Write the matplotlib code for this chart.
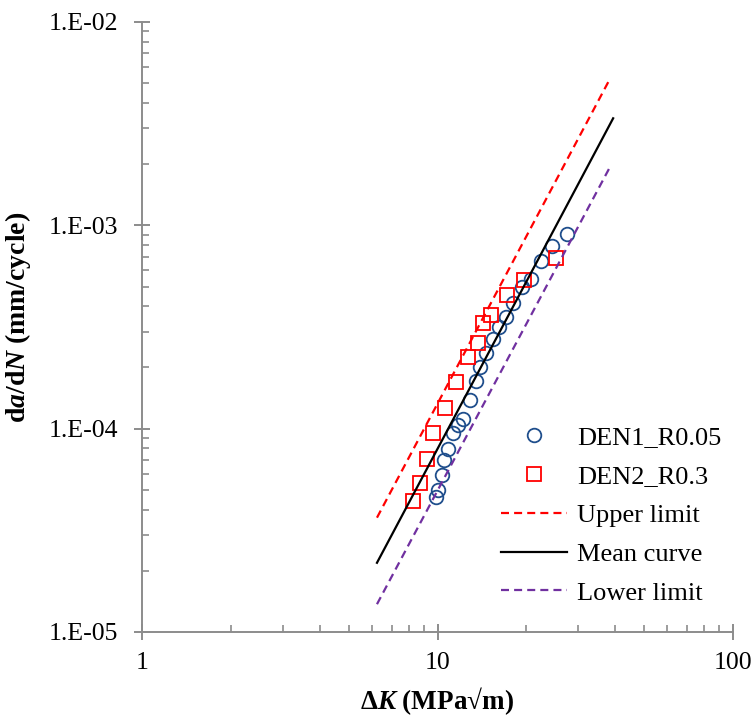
import math
import matplotlib
matplotlib.use("Agg")
import matplotlib.pyplot as plt
from matplotlib.ticker import FixedLocator, FuncFormatter, LogLocator, NullFormatter

plt.rcParams['font.family'] = ['Liberation Serif', 'DejaVu Serif']
plt.rcParams['mathtext.fontset'] = 'custom'
plt.rcParams['mathtext.rm'] = 'Liberation Serif:bold'
plt.rcParams['mathtext.it'] = 'Liberation Serif:italic:bold'
plt.rcParams['mathtext.bf'] = 'Liberation Serif:bold'

# DEN1_R0.05 (circles)
den1_dk = [27.5, 24.5, 22.4, 20.7, 19.3, 17.97, 17.05, 16.15, 15.38, 14.59, 13.92,
           13.5, 12.88, 12.23, 11.76, 11.31, 10.88, 10.52, 10.38, 10.06, 9.88]
den1_rate = [9.07e-4, 7.87e-4, 6.68e-4, 5.43e-4, 4.99e-4, 4.14e-4, 3.56e-4, 3.15e-4,
             2.75e-4, 2.35e-4, 2.02e-4, 1.72e-4, 1.38e-4, 1.11e-4, 1.04e-4, 9.49e-5,
             7.92e-5, 7.02e-5, 5.92e-5, 4.99e-5, 4.63e-5]

# DEN2_R0.3 (squares)
den2_dk = [25.2, 19.62, 17.23, 15.14, 14.29, 13.68, 12.65, 11.55, 10.63, 9.68, 9.19, 8.73, 8.28]
den2_rate = [6.89e-4, 5.39e-4, 4.55e-4, 3.63e-4, 3.32e-4, 2.65e-4, 2.26e-4, 1.70e-4,
             1.26e-4, 9.49e-5, 7.07e-5, 5.39e-5, 4.41e-5]

# fitted lines (end points)
upper_dk = [6.24, 38.3]
upper_rate = [3.65e-5, 5.24e-3]
mean_dk = [6.24, 39.3]
mean_rate = [2.19e-5, 3.36e-3]
lower_dk = [6.24, 38.3]
lower_rate = [1.37e-5, 1.93e-3]

grey = '#8c8c8c'
blue = '#1f4e8c'
red = '#ff0000'
purple = '#7030a0'

fig = plt.figure(figsize=(7.52, 7.17), dpi=100)
ax = fig.add_axes([142 / 752, 1 - 632 / 717, 591 / 752, 610 / 717])

ax.plot(den1_dk, den1_rate, linestyle='none', marker='o', markersize=9.8,
        markerfacecolor='none', markeredgecolor=blue, markeredgewidth=1.3, label='DEN1_R0.05')
ax.plot(den2_dk, den2_rate, linestyle='none', marker='s', markersize=9.8,
        markerfacecolor='none', markeredgecolor=red, markeredgewidth=1.3, label='DEN2_R0.3')
ax.plot(upper_dk, upper_rate, color=red, linewidth=1.6, dashes=(3.6, 2.3), label='Upper limit')
ax.plot(mean_dk, mean_rate, color='black', linewidth=1.6, label='Mean curve')
ax.plot(lower_dk, lower_rate, color=purple, linewidth=1.6, dashes=(3.6, 2.3), label='Lower limit')

ax.set_xscale('log')
ax.set_yscale('log')
ax.set_xlim(1, 100)
ax.set_ylim(1e-5, 1e-2)

ax.xaxis.set_major_locator(FixedLocator([1, 10, 100]))
ax.xaxis.set_major_formatter(FuncFormatter(lambda v, p: f"{v:g}"))
ax.yaxis.set_major_locator(FixedLocator([1e-5, 1e-4, 1e-3, 1e-2]))
ax.yaxis.set_major_formatter(FuncFormatter(lambda v, p: "1.E-%02d" % round(-math.log10(v))))
ax.xaxis.set_minor_locator(LogLocator(base=10, subs=range(2, 10)))
ax.yaxis.set_minor_locator(LogLocator(base=10, subs=range(2, 10)))
ax.xaxis.set_minor_formatter(NullFormatter())
ax.yaxis.set_minor_formatter(NullFormatter())

for s in ['top', 'right']:
    ax.spines[s].set_visible(False)
for s in ['left', 'bottom']:
    ax.spines[s].set_color(grey)
    ax.spines[s].set_linewidth(1.4)

ax.tick_params(which='major', direction='inout', length=11, width=1.4, color=grey,
               labelsize=18.5)
ax.tick_params(axis='x', which='major', pad=9)
ax.tick_params(axis='y', which='major', pad=12)
ax.tick_params(which='minor', direction='in', length=5, width=1.2, color=grey)

ax.set_xlabel(r'$\Delta\mathit{K}$ (MPa√m)', fontsize=19.5, fontweight='bold', labelpad=8)
ax.set_ylabel(r'd$\mathit{a}$/d$\mathit{N}$ (mm/cycle)', fontsize=20, fontweight='bold')
ax.yaxis.set_label_coords(-0.185, 0.515)

ax.legend(loc='upper left', bbox_to_anchor=(0.59, 0.355), frameon=False, fontsize=19,
          borderaxespad=0, labelspacing=0.58, handlelength=2.5, handletextpad=0.38)

fig.savefig('out.png', dpi=100)
